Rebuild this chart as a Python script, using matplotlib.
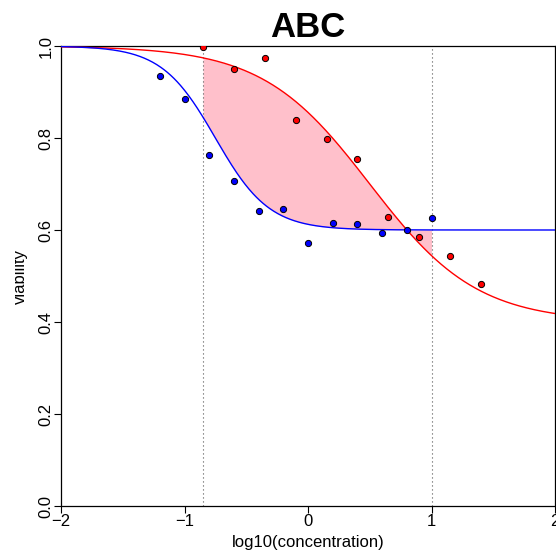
import numpy as np
import matplotlib.pyplot as plt
from matplotlib.transforms import Bbox, TransformedBbox

plt.rcParams['font.family'] = ['Liberation Sans', 'DejaVu Sans']

# puntos medidos
blue_x = [-1.2, -1.0, -0.8, -0.6, -0.4, -0.2, 0.0, 0.2, 0.4, 0.6, 0.8, 1.0]
blue_y = [0.934, 0.884, 0.764, 0.706, 0.642, 0.645, 0.571, 0.615, 0.613, 0.593, 0.601, 0.627]
red_x = [-0.85, -0.6, -0.35, -0.1, 0.15, 0.4, 0.65, 0.9, 1.15, 1.4]
red_y = [0.998, 0.951, 0.973, 0.840, 0.798, 0.754, 0.628, 0.585, 0.543, 0.483]

# parametros de los ajustes (top, bottom, x0, pendiente)
blue_fit = (1.0, 0.6, -0.75, 4.6)
red_fit = (1.0, 0.4, 0.5, 2.3)

# rango sombreado y lineas verticales
shade_lo, shade_hi = -0.85, 1.0

xticks = [-2, -1, 0, 1, 2]
xtick_labels = ['\u22122', '\u22121', '0', '1', '2']
yticks = [0.0, 0.2, 0.4, 0.6, 0.8, 1.0]
ytick_labels = ['0.0', '0.2', '0.4', '0.6', '0.8', '1.0']


def curve(x, p):
    top, bottom, x0, k = p
    return bottom + (top - bottom) / (1 + np.exp(k * (x - x0)))


fig = plt.figure(figsize=(5.56, 5.57), dpi=100)
ax = fig.add_axes([61 / 556, 1 - 506 / 557, 494 / 556, 460 / 557])

xs = np.linspace(-2, 2, 600)
xf = np.linspace(shade_lo, shade_hi, 300)
ax.fill_between(xf, curve(xf, blue_fit), curve(xf, red_fit), color='#FFC0CB', lw=0, zorder=1)

for xv in (shade_lo, shade_hi):
    ax.axvline(xv, color='#555555', lw=0.8, linestyle=(0, (1, 2.6)), zorder=2)

ax.plot(xs, curve(xs, red_fit), color='red', lw=1.0, zorder=3)
ax.plot(xs, curve(xs, blue_fit), color='blue', lw=1.0, zorder=3)

ax.scatter(blue_x, blue_y, s=20, c='blue', edgecolors='black', linewidths=0.7, zorder=4)
ax.scatter(red_x, red_y, s=20, c='red', edgecolors='black', linewidths=0.7, zorder=4)

ax.set_xlim(-2, 2)
ax.set_ylim(0, 1)
ax.set_xticks(xticks)
ax.set_xticklabels(xtick_labels, fontsize=12)
ax.set_yticks(yticks)
ax.set_yticklabels(ytick_labels, fontsize=12, rotation=90, va='center')
ax.tick_params(axis='x', length=5, width=0.8, pad=1)
ax.tick_params(axis='y', length=5, width=0.8, pad=0.5)
for sp in ax.spines.values():
    sp.set_linewidth(0.9)

ax.set_xlabel('log10(concentration)', fontsize=12)
ax.xaxis.set_label_coords(0.5, -0.062)
ax.set_ylabel('viability', fontsize=12)
ax.yaxis.set_label_coords(-0.066, 0.5)
ylab = ax.yaxis.label
ylab.set_clip_box(TransformedBbox(Bbox([[15 / 556, 0], [1, 1]]), fig.transFigure))
ylab.set_clip_on(True)

ax.set_title('ABC', fontsize=25, fontweight='bold', pad=6.7)

plt.savefig('out.png', dpi=100)
